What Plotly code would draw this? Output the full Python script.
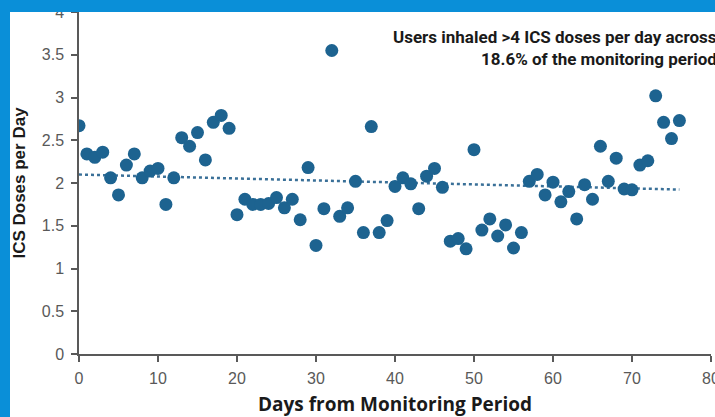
import numpy as np
import plotly.graph_objects as go

# days from start of monitoring period
days = list(range(0, 77))

# mean ICS doses per day
doses = [
    2.67, 2.34, 2.30, 2.36, 2.06, 1.86, 2.21, 2.34, 2.06, 2.14,
    2.17, 1.75, 2.06, 2.53, 2.43, 2.59, 2.27, 2.71, 2.79, 2.64,
    1.63, 1.81, 1.75, 1.75, 1.76, 1.83, 1.71, 1.81, 1.57, 2.18,
    1.27, 1.70, 3.55, 1.61, 1.71, 2.02, 1.42, 2.66, 1.42, 1.56,
    1.96, 2.06, 1.99, 1.70, 2.08, 2.17, 1.95, 1.32, 1.35, 1.23,
    2.39, 1.45, 1.58, 1.38, 1.51, 1.24, 1.42, 2.02, 2.10, 1.86,
    2.01, 1.78, 1.90, 1.58, 1.98, 1.81, 2.43, 2.02, 2.29, 1.93,
    1.92, 2.21, 2.26, 3.02, 2.71, 2.52, 2.73,
]

note_lines = [
    "Users inhaled >4 ICS doses per day across",
    "18.6% of the monitoring period",
]

x_ticks = [0, 10, 20, 30, 40, 50, 60, 70, 80]
y_ticks = [0, 0.5, 1, 1.5, 2, 2.5, 3, 3.5, 4]
y_tick_text = ["0", "0.5", "1", "1.5", "2", "2.5", "3", "3.5", "4"]

# linear trendline through the points
slope, intercept = np.polyfit(days, doses, 1)
trend_x = [days[0], days[-1]]
trend_y = [intercept + slope * d for d in trend_x]

dot_color = "#1d6390"
frame_blue = "#0a8fd8"

fig = go.Figure()

fig.add_trace(
    go.Scatter(
        x=trend_x,
        y=trend_y,
        mode="lines",
        line=dict(color="#3a7098", width=2.5, dash="dot"),
        hoverinfo="skip",
        showlegend=False,
    )
)

fig.add_trace(
    go.Scatter(
        x=days,
        y=doses,
        mode="markers",
        marker=dict(color=dot_color, size=13, line=dict(width=0)),
        showlegend=False,
    )
)

axis_font = dict(family="Liberation Sans, Arial, sans-serif", size=16, color="#595959")

fig.update_xaxes(
    range=[0, 80],
    tickvals=x_ticks,
    ticks="outside",
    ticklen=6,
    tickwidth=1.5,
    tickcolor="#595959",
    showline=True,
    linecolor="#595959",
    linewidth=1.5,
    showgrid=False,
    zeroline=False,
    automargin=False,
    ticklabeloverflow="allow",
    ticklabelstandoff=3,
    tickfont=axis_font,
    title=dict(
        text="<b>Days from Monitoring Period</b>",
        font=dict(family="Open Sans, sans-serif", size=19, color="#1a1a1a"),
        standoff=18,
    ),
)

fig.update_yaxes(
    range=[0, 4],
    tickvals=y_ticks,
    ticktext=y_tick_text,
    ticks="outside",
    ticklen=6,
    tickwidth=1.5,
    tickcolor="#595959",
    showline=True,
    linecolor="#595959",
    linewidth=1.5,
    showgrid=False,
    zeroline=False,
    automargin=False,
    ticklabeloverflow="allow",
    tickfont=axis_font,
    ticklabelstandoff=4,
    title=dict(
        text="<b>ICS Doses per Day</b>",
        font=dict(family="Liberation Sans, Arial, sans-serif", size=17, color="#1a1a1a"),
        standoff=14,
    ),
)

note_font = dict(family="Roboto, sans-serif", size=17, color="#1a1a1a")
fig.add_annotation(
    text="<b>" + note_lines[0] + "</b>",
    xref="paper", yref="paper", x=1.013, y=0.927,
    xanchor="right", yanchor="middle", showarrow=False, font=note_font,
)
fig.add_annotation(
    text="<b>" + note_lines[1] + "</b>",
    xref="paper", yref="paper", x=1.013, y=0.862,
    xanchor="right", yanchor="middle", showarrow=False, font=note_font,
)

# figure is placed 10px in from the left and 12px down; the blue page
# background shows in that gap as the frame
fig.update_layout(
    width=705,
    height=405,
    margin=dict(l=69, r=4, t=0, b=63),
    paper_bgcolor="white",
    plot_bgcolor="white",
)

fig.write_html(
    "out.html",
    config={"displayModeBar": False},
    post_script=(
        "document.body.style.background='" + frame_blue + "';"
        "document.body.style.margin='12px 0 0 10px';"
    ),
)
